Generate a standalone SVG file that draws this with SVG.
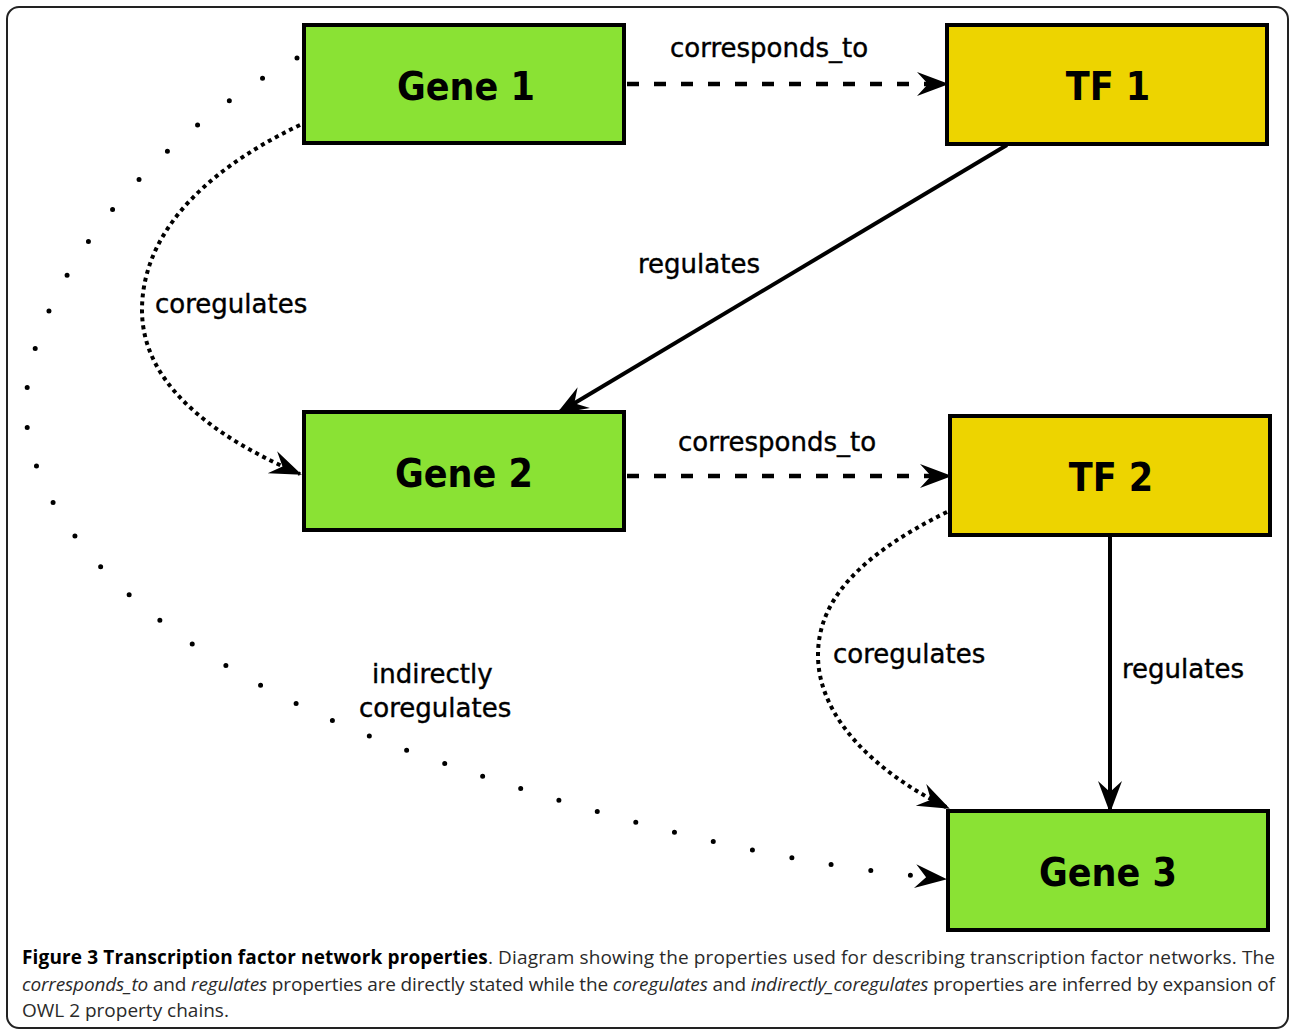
<svg xmlns="http://www.w3.org/2000/svg" width="1290" height="1030" viewBox="0 0 1290 1030">
<style>
.box{stroke:#000;stroke-width:4}
.gene{fill:#8ae234}
.tf{fill:#edd400}
.nl{font-family:"DejaVu Sans Condensed","DejaVu Sans",sans-serif;font-weight:bold;font-size:39px;text-anchor:middle;fill:#000}
.el{font-family:"DejaVu Sans",sans-serif;font-size:26px;fill:#000;stroke:#000;stroke-width:0.4}
.c{fill:none;stroke:#000}
.dash{stroke-width:4.5;stroke-dasharray:12 15}
.solid{stroke-width:4}
.dot{stroke-width:4;stroke-dasharray:4 4}
.sparse{stroke-width:5;stroke-dasharray:0 40;stroke-linecap:round}
.cap{font-family:"Open Sans","Liberation Sans",sans-serif;font-size:19px;fill:#2a2a2a}
</style>
<defs>
<marker id="ah" markerUnits="userSpaceOnUse" markerWidth="40" markerHeight="30" viewBox="-32 -15 36 30" refX="0" refY="0" orient="auto">
<path d="M2,0 L-30,-12 L-19,0 L-30,12 Z" fill="#000"/>
</marker>
</defs>
<rect x="7" y="7" width="1281" height="1021" rx="12" fill="#fff" stroke="#222" stroke-width="2"/>
<g id="connectors">
<path class="c dash" d="M627,84 L947,84" marker-end="url(#ah)"/>
<path class="c solid" d="M1007,145 L558,413" marker-end="url(#ah)"/>
<path class="c dash" d="M627,476 L950,476" marker-end="url(#ah)"/>
<path class="c solid" d="M1110,536 L1110,811" marker-end="url(#ah)"/>
<path class="c dot" d="M300,125 C195,175 142,240 142,310 C142,390 225,442 300,474" marker-end="url(#ah)"/>
<path class="c dot" d="M947,512 C860,555 818,600 818,655 C818,720 880,775 948,808" marker-end="url(#ah)"/>
<path class="c sparse" d="M297,58 C130,150 26,300 26,408 C26,520 150,660 420,755 C650,835 800,865 945,879" marker-end="url(#ah)"/>
<text class="el" x="670" y="57">corresponds_to</text>
<text class="el" x="638" y="273">regulates</text>
<text class="el" x="155" y="313">coregulates</text>
<text class="el" x="678" y="451">corresponds_to</text>
<text class="el" x="833" y="663">coregulates</text>
<text class="el" x="1122" y="678">regulates</text>
<text class="el" x="372" y="683">indirectly</text>
<text class="el" x="359" y="717">coregulates</text>
</g>
<g id="gene1"><rect class="box gene" x="304" y="25" width="320" height="118"/><text class="nl" x="466" y="100">Gene 1</text></g>
<g id="tf1"><rect class="box tf" x="947" y="25" width="320" height="119"/><text class="nl" x="1108" y="100">TF 1</text></g>
<g id="gene2"><rect class="box gene" x="304" y="412" width="320" height="118"/><text class="nl" x="464" y="487">Gene 2</text></g>
<g id="tf2"><rect class="box tf" x="950" y="416" width="320" height="119"/><text class="nl" x="1111" y="491">TF 2</text></g>
<g id="gene3"><rect class="box gene" x="948" y="811" width="320" height="119"/><text class="nl" x="1108" y="886">Gene 3</text></g>
<g id="caption">
<text class="cap" x="22" y="964" textLength="1253" lengthAdjust="spacing"><tspan font-weight="bold" fill="#000">Figure 3 Transcription factor network properties</tspan>. Diagram showing the properties used for describing transcription factor networks. The</text>
<text class="cap" x="22" y="991" textLength="1253" lengthAdjust="spacing"><tspan font-style="italic">corresponds_to</tspan> and <tspan font-style="italic">regulates</tspan> properties are directly stated while the <tspan font-style="italic">coregulates</tspan> and <tspan font-style="italic">indirectly_coregulates</tspan> properties are inferred by expansion of</text>
<text class="cap" x="22" y="1017">OWL 2 property chains.</text>
</g>
</svg>
